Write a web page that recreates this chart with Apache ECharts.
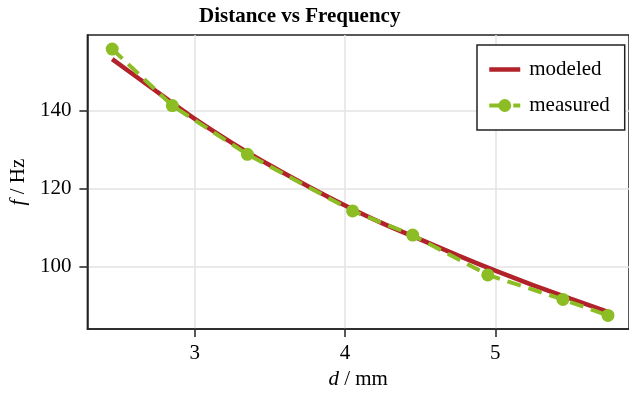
<!DOCTYPE html>
<html>
<head>
<meta charset="utf-8">
<script src="https://cdn.jsdelivr.net/npm/echarts@6/dist/echarts.min.js"></script>
<style>
  html, body { margin: 0; padding: 0; background: #fff; }
  #chart { width: 629px; height: 395px; }
</style>
</head>
<body>
<div id="chart"></div>
<script>
// measured points
const measuredD = [2.45, 2.85, 3.35, 4.05, 4.45, 4.95, 5.45, 5.75];
const measuredF = [155.8, 141.3, 128.8, 114.3, 108.1, 97.9, 91.6, 87.5];
// modeled curve
const modeledD = [2.45, 2.75, 3.0, 3.25, 3.5, 3.75, 4.0, 4.25, 4.5, 4.75, 5.0, 5.25, 5.5, 5.75];
const modeledF = [153.2, 144.8, 137.9, 131.7, 126.0, 120.7, 115.7, 111.1, 107.0, 102.9, 99.0, 95.3, 91.8, 88.4];
// tick labels
const xTicks = [3, 4, 5];
const yTicks = [100, 120, 140];

const serif = '"Liberation Serif", "DejaVu Serif", serif';
const red = '#b2222a';
const green = '#8cbd24';

const chart = echarts.init(document.getElementById('chart'));

const option = {
  animation: false,
  backgroundColor: '#fff',
  title: {
    text: 'Distance vs Frequency',
    left: 199,
    top: 6,
    padding: 0,
    textStyle: { fontFamily: serif, fontSize: 21, fontWeight: 'bold', color: '#000' }
  },
  grid: {
    left: 86.5,
    right: -3,
    top: 35,
    bottom: 64.7,
    show: true,
    borderColor: '#222',
    borderWidth: 1.5
  },
  legend: {
    orient: 'vertical',
    left: 477,
    top: 45,
    padding: [14, 15, 14, 10],
    itemGap: 15,
    itemWidth: 31,
    itemHeight: 16,
    backgroundColor: '#fff',
    borderColor: '#222',
    borderWidth: 1.5,
    borderRadius: 0,
    textStyle: { fontFamily: serif, fontSize: 21, color: '#000', padding: [0, 0, 0, 4] },
    data: [
      { name: 'modeled', itemStyle: { opacity: 0 }, lineStyle: { width: 4.5 } },
      { name: 'measured', lineStyle: { width: 4, type: [20, 4] } }
    ]
  },
  xAxis: {
    type: 'value',
    min: 2.285,
    max: 5.89,
    name: '{i|d} / mm',
    nameLocation: 'middle',
    nameGap: 38,
    nameTextStyle: {
      fontFamily: serif, fontSize: 21, color: '#000',
      rich: { i: { fontFamily: serif, fontSize: 21, fontStyle: 'italic', color: '#000' } }
    },
    axisLine: { onZero: false, lineStyle: { color: '#222', width: 1.5 } },
    axisTick: { customValues: xTicks, length: 8, lineStyle: { color: '#222', width: 1.5 } },
    axisLabel: { customValues: xTicks, margin: 14, fontFamily: serif, fontSize: 21, color: '#000' },
    splitLine: { show: true, lineStyle: { color: '#e3e3e3', width: 1.5 } }
  },
  yAxis: {
    type: 'value',
    min: 84.0,
    max: 159.4,
    name: '{i|f} / Hz',
    nameLocation: 'middle',
    nameRotate: 90,
    nameGap: 58,
    nameTextStyle: {
      fontFamily: serif, fontSize: 21, color: '#000',
      rich: { i: { fontFamily: serif, fontSize: 21, fontStyle: 'italic', color: '#000' } }
    },
    axisLine: { show: true, onZero: false, lineStyle: { color: '#222', width: 1.5 } },
    axisTick: { show: true, customValues: yTicks, length: 8, lineStyle: { color: '#222', width: 1.5 } },
    axisLabel: { customValues: yTicks, margin: 16, fontFamily: serif, fontSize: 21, color: '#000' },
    splitLine: { show: true, lineStyle: { color: '#e3e3e3', width: 1.5 } }
  },
  series: [
    {
      name: 'modeled',
      type: 'line',
      data: modeledD.map((d, i) => [d, modeledF[i]]),
      smooth: 0.3,
      symbol: 'none',
      lineStyle: { color: red, width: 4.5 },
      itemStyle: { color: red },
      z: 2
    },
    {
      name: 'measured',
      type: 'line',
      data: measuredD.map((d, i) => [d, measuredF[i]]),
      symbol: 'circle',
      symbolSize: 13,
      lineStyle: { color: green, width: 4, type: [14, 8] },
      itemStyle: { color: green },
      z: 3
    }
  ]
};

chart.setOption(option);
</script>
</body>
</html>
